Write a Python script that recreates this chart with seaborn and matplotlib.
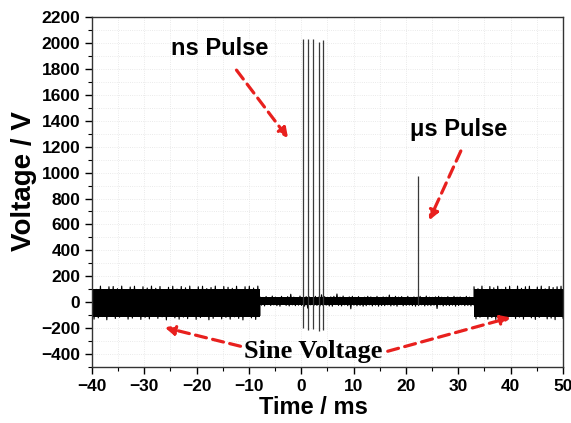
import numpy as np
import pandas as pd
import seaborn as sns
import matplotlib.pyplot as plt
from matplotlib.ticker import MultipleLocator

# sine voltage block before the pulses (-40 .. -8 ms), read as a zigzag band
sine_left = [115, -130, 100, -120, 125, -110, 80, -135, 120, -90, 122, -125, 105, -115, 125, -100,
             90, -130, 118, -122, 124, -108, 95, -132, 120, -116, 110, -128, 125, -95, 108, -124,
             122, -112, 86, -136, 116, -105, 124, -120, 102, -130, 122, -114, 112, -126, 125, -98,
             92, -132, 120, -118, 124, -110, 106, -135, 114, -124, 125, -104, 98, -128, 122, -116,
             116, -130, 108, -112, 124, -124, 90, -136, 120, -108, 124, -120, 110, -132, 125, -102]
sine_left_t = (-40.0, -7.9)

# low-level background between the blocks (-8 .. 33 ms)
mid = [42, -22, 38, -28, 45, -18, 35, -25, 48, -20, 40, -26, 36, -30, 46, -16, 34, -24, 44, -28,
       62, -20, 40, -26, 36, -22, 48, -24, 38, -30, 44, -45, 42, -20, 36, -26, 46, -24, 40, -28,
       58, -26, 44, -22, 38, -28, 42, -30, 46, -18, 64, -24, 40, -28, 48, -20, 36, -26, 42, -50,
       46, -22, 38, -27, 44, -24, 34, -30, 40, -26, 46, -20, 42, -28, 38, -22, 46, -30, 36, -25,
       42, -26, 40, -20, 56, -28, 38, -24, 46, -30, 40, -18, 44, -27, 36, -24, 46, -22, 38, -26,
       42, -30, 40, -25, 46, -20, 36, -28, 48, -24, 40, -26, 38, -22, 42, -48, 46, -20, 40, -28,
       38, -24, 44, -26, 36, -22, 46, -30, 40, -25, 42, -20, 38, -26, 46, -24, 40, -28, 36, -22]
mid_t = (-7.9, 33.0)

# sine voltage block after the pulses (33 .. 50 ms)
sine_right = [120, -128, 105, -115, 125, -100, 90, -130, 122, -118, 112, -132, 124, -106, 100, -124,
              116, -135, 124, -110, 86, -126, 125, -114, 108, -130, 120, -102, 124, -120, 96, -132,
              118, -116, 125, -108, 104, -128, 122, -122, 114, -134, 120, -110, 124, -124]
sine_right_t = (33.0, 50.0)

# solid core of the band (where the trace is too dense to resolve)
core_t = [-40.0, -7.9, -7.9, 33.0, 33.0, 50.0]
core_hi = [105, 105, 38, 38, 105, 105]
core_lo = [-115, -115, -18, -18, -115, -115]

# ns pulse burst and the single us pulse
pulse_t = [0.3, 1.2, 2.3, 3.3, 4.2, 22.3]
pulse_peak = [2030, 2030, 2030, 2005, 2025, 970]
pulse_dip = [-200, -215, -205, -225, -210, -20]

frames = []
for vals, (t0, t1) in [(sine_left, sine_left_t), (mid, mid_t), (sine_right, sine_right_t)]:
    frames.append(pd.DataFrame({"t": np.linspace(t0, t1, len(vals)), "v": vals}))
df = pd.concat(frames, ignore_index=True)

sns.set_style("white")
plt.rcParams['font.family'] = ['Liberation Sans', 'DejaVu Sans']
plt.rcParams['text.color'] = 'black'
plt.rcParams['xtick.color'] = 'black'
plt.rcParams['ytick.color'] = 'black'
plt.rcParams['axes.labelcolor'] = 'black'

fig = plt.figure(figsize=(5.71, 4.23), dpi=100)
ax = fig.add_axes([0.161, 0.132, 0.825, 0.828])

ax.grid(True, which='both', color='#e3e3e3', lw=0.6, ls=':')
ax.fill_between(core_t, core_lo, core_hi, color='black', lw=0)
sns.lineplot(data=df, x="t", y="v", ax=ax, color='black', lw=0.8, estimator=None, sort=False)
ax.vlines(pulse_t, pulse_dip, pulse_peak, color='#3a3a3a', lw=0.9)

ax.set_xlim(-40, 50)
ax.set_ylim(-500, 2200)
ax.xaxis.set_major_locator(MultipleLocator(10))
ax.xaxis.set_minor_locator(MultipleLocator(5))
ax.yaxis.set_minor_locator(MultipleLocator(100))
ax.set_yticks(np.arange(-400, 2201, 200))
ax.tick_params(which='major', direction='out', length=5, width=1, bottom=True, left=True,
               labelsize=12.5)
ax.tick_params(which='minor', direction='out', length=3, width=0.8, bottom=True, left=True)
for lab in ax.get_xticklabels() + ax.get_yticklabels():
    lab.set_fontweight('bold')
for s in ax.spines.values():
    s.set_color('#333333')
    s.set_linewidth(1)

ax.set_xlabel("Time / ms", fontsize=17, fontweight='bold', va='center')
ax.set_ylabel("Voltage / V", fontsize=20, fontweight='bold')
ax.xaxis.set_label_coords(0.471, -0.115)
ax.yaxis.set_label_coords(-0.117, 0.531)

red = '#e8201e'
arrow = dict(arrowstyle='-|>', color=red, lw=2.3, ls=(0, (3.5, 2)), mutation_scale=14)
ax.text(-15.5, 1960, "ns Pulse", fontsize=17, fontweight='bold', ha='center', va='center')
ax.annotate("", xy=(-2.2, 1248), xytext=(-12.7, 1807), arrowprops=arrow)
ax.text(30.1, 1335, "\u03bcs Pulse", fontsize=17, fontweight='bold', ha='center', va='center')
ax.annotate("", xy=(24.2, 612), xytext=(30.7, 1186), arrowprops=arrow)
ax.text(2.2, -376, "Sine Voltage", fontsize=19, fontweight='bold', ha='center', va='center',
        family=['Liberation Serif', 'DejaVu Serif'])
ax.annotate("", xy=(-26.6, -189), xytext=(-11.1, -344), arrowprops=arrow)
ax.annotate("", xy=(40.5, -111), xytext=(16, -383), arrowprops=arrow)

fig.savefig("out.png", dpi=100)
